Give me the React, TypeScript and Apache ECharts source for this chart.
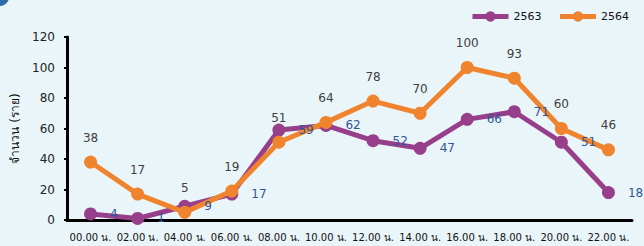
import React, { useEffect, useRef } from "react";
import * as echarts from "echarts";

const categories = [
  "00.00 น.", "02.00 น.", "04.00 น.", "06.00 น.", "08.00 น.", "10.00 น.",
  "12.00 น.", "14.00 น.", "16.00 น.", "18.00 น.", "20.00 น.", "22.00 น.",
];
const series2563 = [4, 1, 9, 17, 59, 62, 52, 47, 66, 71, 51, 18];
const series2564 = [38, 17, 5, 19, 51, 64, 78, 70, 100, 93, 60, 46];
const yTicks = { min: 0, max: 120, interval: 20 };

const FONT = "'DejaVu Sans', Verdana, sans-serif";
const PURPLE = "#973F8A";
const ORANGE = "#F0842E";

export default function App() {
  const ref = useRef<HTMLDivElement>(null);
  useEffect(() => {
    if (!ref.current) return;
    const chart = echarts.init(ref.current, undefined, { renderer: "svg" });
    const labelOnly = (name: string, data: number[], label: any) => ({
      name,
      type: "line",
      data,
      symbol: "circle",
      symbolSize: 13,
      silent: true,
      itemStyle: { color: "rgba(0,0,0,0)" },
      lineStyle: { width: 0, opacity: 0 },
      label: { show: true, fontSize: 12, fontFamily: FONT, ...label },
      z: 10,
    });
    chart.setOption({
      animation: false,
      backgroundColor: "#EAF5FA",
      textStyle: { fontFamily: FONT },
      graphic: [
        { type: "circle", shape: { cx: 0, cy: -3, r: 9 }, style: { fill: "#2C6BA6" } },
      ],
      legend: {
        orient: "horizontal",
        left: 470,
        top: 11,
        width: 180,
        padding: 0,
        itemWidth: 36,
        itemHeight: 13,
        itemGap: 16,
        lineStyle: { width: 5 },
        textStyle: { fontSize: 11, color: "#111", fontFamily: FONT },
        data: ["2563", "2564"],
      },
      grid: { left: 67, right: 12, top: 37, bottom: 26, containLabel: false },
      xAxis: {
        type: "category",
        data: categories,
        boundaryGap: true,
        axisLine: { lineStyle: { color: "#000", width: 3 } },
        axisTick: { alignWithLabel: true, length: 4, lineStyle: { color: "#000", width: 2 } },
        axisLabel: { interval: 0, fontSize: 10, color: "#111", margin: 12, fontFamily: FONT },
      },
      yAxis: {
        type: "value",
        min: yTicks.min,
        max: yTicks.max,
        interval: yTicks.interval,
        name: "จำนวน (ราย)",
        nameLocation: "middle",
        nameGap: 42,
        nameRotate: 90,
        nameTextStyle: { fontSize: 12, color: "#111", fontFamily: FONT },
        splitLine: { show: false },
        axisLine: { show: true, lineStyle: { color: "#000", width: 3 } },
        axisTick: { show: true, length: 3, lineStyle: { color: "#000", width: 2 } },
        axisLabel: { fontSize: 12, color: "#222", margin: 12, fontFamily: FONT },
      },
      series: [
        {
          name: "2563",
          type: "line",
          data: series2563,
          symbol: "circle",
          symbolSize: 13,
          itemStyle: { color: PURPLE },
          lineStyle: { color: PURPLE, width: 5 },
          label: { show: false },
          z: 2,
        },
        {
          name: "2564",
          type: "line",
          data: series2564,
          symbol: "circle",
          symbolSize: 13,
          itemStyle: { color: ORANGE },
          lineStyle: { color: ORANGE, width: 5 },
          label: { show: false },
          z: 3,
        },
        labelOnly("labels2563", series2563, { position: "right", distance: 13, color: "#2F5597" }),
        labelOnly("labels2564", series2564, { position: "top", distance: 12, color: "#404040" }),
      ],
    });
    return () => chart.dispose();
  }, []);
  return (
    <div
      ref={ref}
      style={{ position: "absolute", left: 0, top: 0, width: 644, height: 246 }}
    />
  );
}
